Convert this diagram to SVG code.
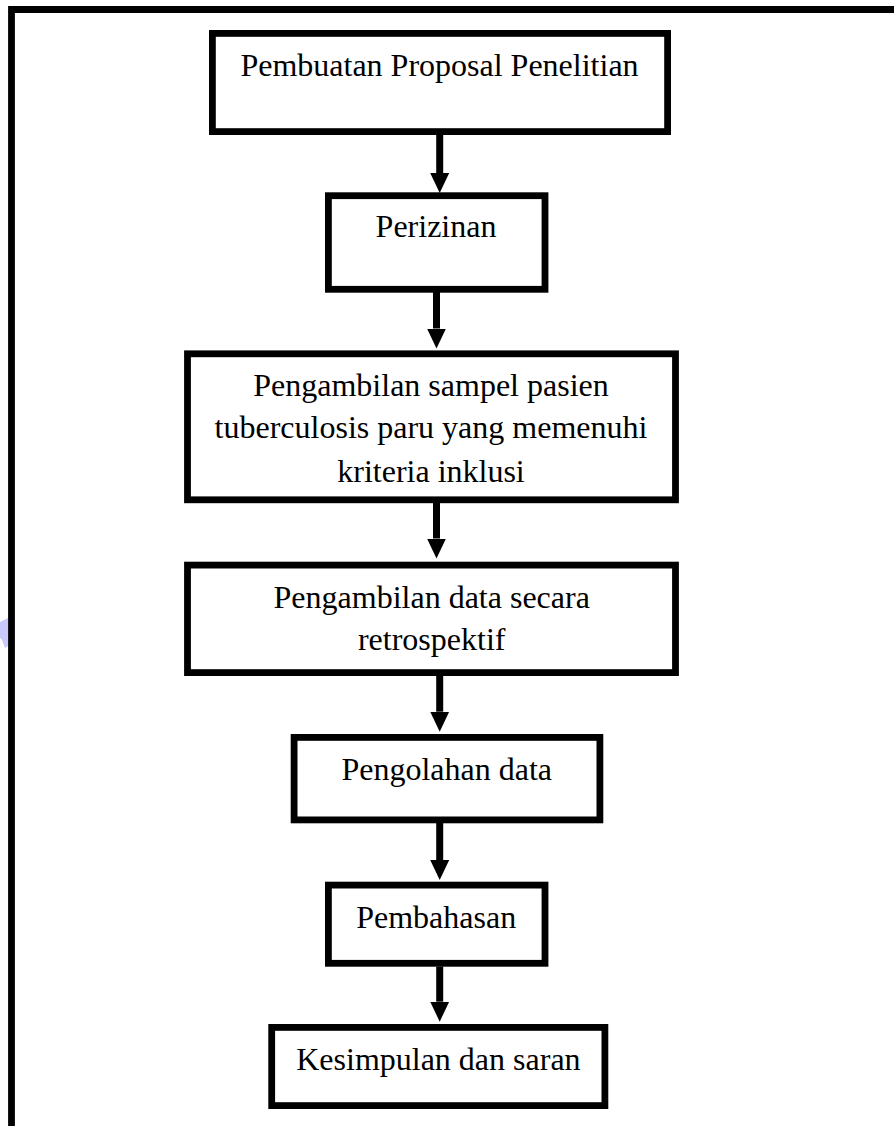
<svg xmlns="http://www.w3.org/2000/svg" width="894" height="1126" viewBox="0 0 894 1126">
<style>
.box{fill:#fff;stroke:#000;stroke-width:6.8}
.lbl{font-family:"Liberation Serif","Times New Roman",serif;font-size:32px;fill:#000;text-anchor:middle}
.conn{stroke:#000;stroke-width:7;fill:none}
</style>
<defs>
<marker id="ah" markerUnits="userSpaceOnUse" markerWidth="20" markerHeight="20" viewBox="0 0 20 20" refX="0" refY="10" orient="auto">
<path d="M0,0.5 L20,10 L0,19.5 Z" fill="#000"/>
</marker>
</defs>
<rect x="0" y="0" width="894" height="1126" fill="#fff"/>
<path d="M0,622 L8,618 L8,646 L5,648 L2,640 L0,638 Z" fill="#c9c9fb"/>
<path d="M11.5,1126 V9.5 H894" fill="none" stroke="#000" stroke-width="6.8"/>
<g id="connectors">
<line class="conn" x1="439.7" y1="135" x2="439.7" y2="173" marker-end="url(#ah)"/>
<line class="conn" x1="436.5" y1="292" x2="436.5" y2="328.5" marker-end="url(#ah)"/>
<line class="conn" x1="436.5" y1="503" x2="436.5" y2="538.5" marker-end="url(#ah)"/>
<line class="conn" x1="439.7" y1="676" x2="439.7" y2="711.7" marker-end="url(#ah)"/>
<line class="conn" x1="439.7" y1="823" x2="439.7" y2="860" marker-end="url(#ah)"/>
<line class="conn" x1="439.7" y1="966.5" x2="439.7" y2="1001.7" marker-end="url(#ah)"/>
</g>
<g id="n1">
<rect class="box" x="212.4" y="33.4" width="455.2" height="98.2"/>
<text class="lbl" x="439.5" y="76">Pembuatan Proposal Penelitian</text>
</g>
<g id="n2">
<rect class="box" x="328.4" y="195.7" width="216.6" height="93.6"/>
<text class="lbl" x="436" y="237">Perizinan</text>
</g>
<g id="n3">
<rect class="box" x="187.5" y="353.8" width="488" height="146"/>
<text class="lbl" x="431" y="396">Pengambilan sampel pasien</text>
<text class="lbl" x="431" y="438">tuberculosis paru yang memenuhi</text>
<text class="lbl" x="431" y="482">kriteria inklusi</text>
</g>
<g id="n4">
<rect class="box" x="187.5" y="565.1" width="488" height="107.5"/>
<text class="lbl" x="431.7" y="608">Pengambilan data secara</text>
<text class="lbl" x="431.7" y="650">retrospektif</text>
</g>
<g id="n5">
<rect class="box" x="294.1" y="737.4" width="305.8" height="82.5"/>
<text class="lbl" x="446.7" y="780">Pengolahan data</text>
</g>
<g id="n6">
<rect class="box" x="328.4" y="885.1" width="216.6" height="78.2"/>
<text class="lbl" x="436.2" y="928">Pembahasan</text>
</g>
<g id="n7">
<rect class="box" x="271.7" y="1027.4" width="333.2" height="78.2"/>
<text class="lbl" x="438.4" y="1070">Kesimpulan dan saran</text>
</g>
</svg>
